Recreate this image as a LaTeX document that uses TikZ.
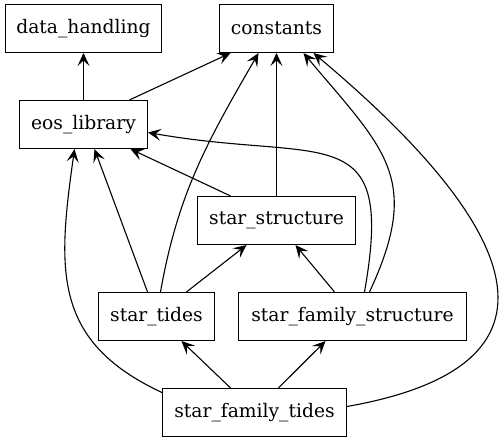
\documentclass[tikz,border=0pt]{standalone}
\usepackage{fontspec}
\setmainfont{DejaVu Serif}
\usetikzlibrary{arrows.meta}

\begin{document}
\begin{tikzpicture}[->,>={Stealth[length=13pt,width=12pt,inset=5.5pt]},x=1pt,y=1pt,line width=1.1pt,
    module/.style={draw,rectangle,minimum height=48pt,inner sep=0pt,font=\fontsize{18.7}{22}\selectfont}]
  \useasboundingbox (0,0) rectangle (503,443);

  \node[module,minimum width=156pt] (dh)    at (83.5,414.5)  {data\_handling};
  \node[module,minimum width=114pt] (const) at (276.5,414.5) {constants};
  \node[module,minimum width=128pt] (eos)   at (83.5,318.5)  {eos\_library};
  \node[module,minimum width=158pt] (ss)    at (276.5,222.5) {star\_structure};
  \node[module,minimum width=116pt] (st)    at (156.5,126.5) {star\_tides};
  \node[module,minimum width=228pt] (sfs)   at (352.5,126.5) {star\_family\_structure};
  \node[module,minimum width=184pt] (sft)   at (254.5,30.5)  {star\_family\_tides};

  \path (eos.north)                edge (dh.south)
        ([xshift=46pt]eos.north)   edge ([xshift=-46pt]const.south)
        ([xshift=4pt]st.north)     edge [out=80,in=-120] ([xshift=-18pt]const.south)
        (ss.north)                 edge (const.south)
        ([xshift=17pt]sfs.north)   edge [out=65,in=-50,looseness=1.3] ([xshift=27pt]const.south)
        ([yshift=6pt]sft.east)     edge [out=10,in=-40,looseness=1.8] ([xshift=37pt]const.south)
        ([xshift=-9pt]st.north)    edge ([xshift=11pt]eos.south)
        ([yshift=20pt]sft.west)    edge [out=155,in=-98,looseness=1.2] ([xshift=-9pt]eos.south)
        ([xshift=-46pt]ss.north)   edge ([xshift=47pt]eos.south)
        ([xshift=12pt]sfs.north)   edge [out=80,in=-10,looseness=1.7] ([yshift=-8pt]eos.east)
        ([xshift=30pt]st.north)    edge ([xshift=-30pt]ss.south)
        ([xshift=-18pt]sfs.north)  edge ([xshift=19pt]ss.south)
        ([xshift=-24pt]sft.north)  edge ([xshift=25pt]st.south)
        ([xshift=24pt]sft.north)   edge ([xshift=-27pt]sfs.south);
\end{tikzpicture}
\end{document}
